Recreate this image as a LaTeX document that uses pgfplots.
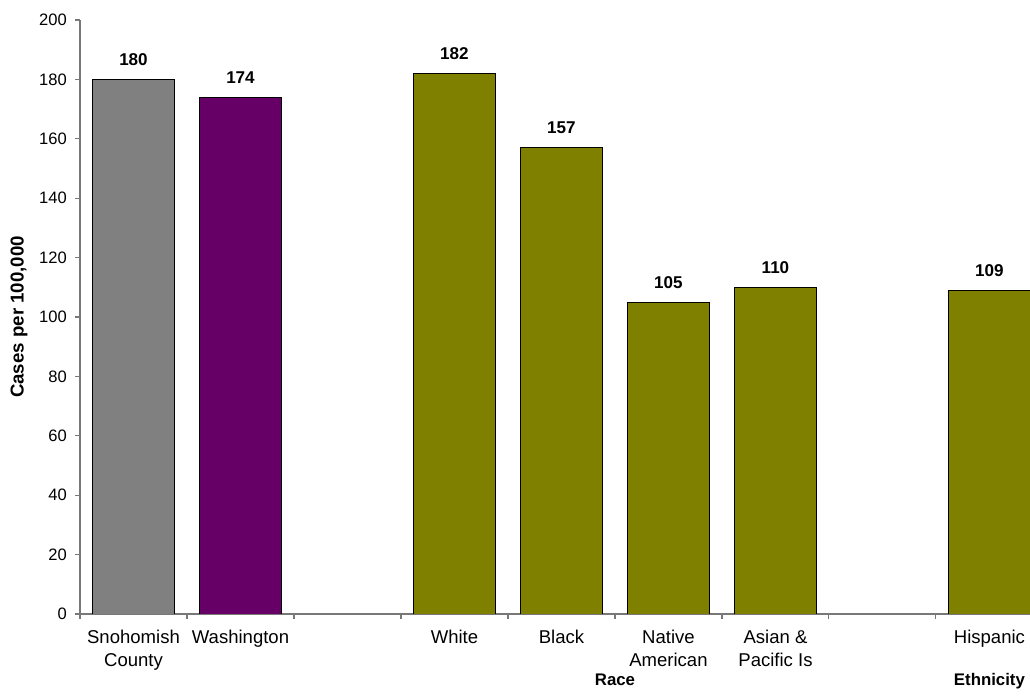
\documentclass[border=0pt]{standalone}
\usepackage{pgfplots}
\pgfplotsset{compat=1.18}
\usepackage{fontspec}
\setmainfont{Liberation Sans}
\definecolor{cgray}{RGB}{128,128,128}
\definecolor{cpurple}{RGB}{102,0,102}
\definecolor{colive}{RGB}{128,128,0}
\definecolor{axgray}{RGB}{120,120,120}
\begin{document}
\begin{tikzpicture}
\begin{axis}[
  name=ax,
  scale only axis,
  width=712.5pt, height=445.5pt,
  xmin=-0.5, xmax=8.379,
  ymin=0, ymax=200,
  axis lines*=left,
  axis line style={axgray, line width=0.8pt},
  clip mode=individual,
  ybar, bar shift=0pt, bar width=0.766,
  tick align=outside,
  major tick length=3.75pt,
  every tick/.style={axgray, line width=0.8pt},
  ytick={0,20,...,200},
  /pgf/number format/assume math mode=true,
  yticklabel style={font=\fontsize{12.4}{14}\selectfont, anchor=east, inner sep=0pt, xshift=-6pt},
  xtick={-0.5,0.5,...,7.5},
  xticklabels={},
  extra x ticks={0,1,3,4,5,6,8},
  extra x tick labels={Snohomish\\County, Washington, White, Black, Native\\American, Asian \&\\Pacific Is, Hispanic},
  extra x tick style={major tick length=0pt,
     tick label style={align=center, font=\fontsize{13.9}{17.5}\selectfont, anchor=north, inner sep=0pt, yshift=-11.5pt}},
  ylabel={Cases per 100,000},
  ylabel style={at={([xshift=-45.75pt]rel axis cs:0,0.5)}, anchor=center, font=\bfseries\fontsize{14}{16}\selectfont},
  nodes near coords,
  point meta=y,
  nodes near coords style={font=\bfseries\fontsize{12.8}{14}\selectfont, anchor=base, inner sep=0pt, yshift=10.5pt},
]
\addplot[fill=cgray, draw=black, line width=0.7pt] coordinates {(0,180)};
\addplot[fill=cpurple, draw=black, line width=0.7pt] coordinates {(1,174)};
\addplot[fill=colive, draw=black, line width=0.7pt] coordinates {(3,182) (4,157) (5,105) (6,110) (8,109)};
\node[font=\bfseries\fontsize{12.6}{14}\selectfont, anchor=base] at ([yshift=-54pt]axis cs:4.5,0) {Race};
\node[font=\bfseries\fontsize{12.6}{14}\selectfont, anchor=base] at ([yshift=-54pt]axis cs:8,0) {Ethnicity};
\end{axis}
\pgfresetboundingbox
\path[use as bounding box] ([xshift=-60pt,yshift=-63pt]ax.south west) rectangle ([yshift=15pt]ax.north east);
\end{tikzpicture}
\end{document}
